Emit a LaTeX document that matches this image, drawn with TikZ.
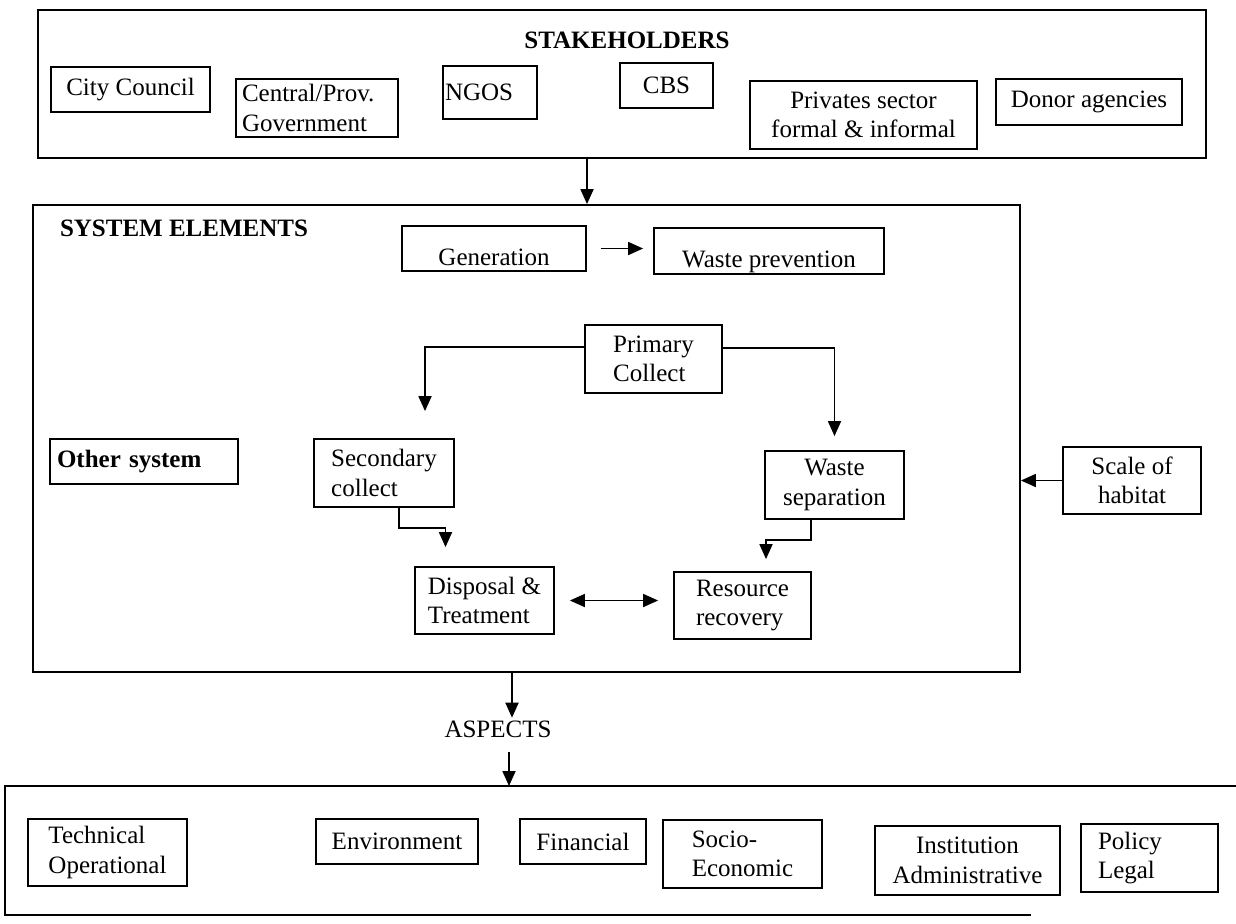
\documentclass[tikz,border=0pt]{standalone}
\usepackage{fontspec}
\setmainfont{Liberation Serif}
\usetikzlibrary{arrows.meta}
\begin{document}
\begin{tikzpicture}[x=0.5pt, y=-0.5pt, font=\fontsize{12.5}{14.8}\selectfont, line width=0.9pt, >={Triangle[width=6.5pt, length=7.5pt]}]
        \tikzstyle{box} = [draw, black, inner sep=2pt, align=left]
        \tikzstyle{blk} = [draw, black]
        \useasboundingbox (0,0) rectangle (1236,923);

        \node[draw, minimum width=584pt, minimum height=74pt] (stake) at (622, 84) {};
        \node (stakelbl) at (627, 40) {\textbf{STAKEHOLDERS}};
        \node[box, minimum width=79.5pt, minimum height=22.5pt] (council) at (130.5, 89.5) {City Council};
        \node[box, text width=75pt, inner xsep=3pt, minimum height=29pt] (central) at (317, 108) {Central/Prov.\\Government};
        \node[box, text width=45pt, inner xsep=1pt, minimum height=26.5pt] (ngos) at (490, 92.5) {NGOS};
        \node[box, minimum width=46.5pt, minimum height=22.5pt] (cbs) at (666.5, 85.5) {CBS};
        \node[box, align=center, minimum width=113.5pt, minimum height=34pt] (private) at (863.5, 115) {Privates sector\\formal \& informal};
        \node[box, minimum width=93pt, minimum height=23pt] (donor) at (1089, 102) {Donor agencies};

        \node[draw, minimum width=493.5pt, minimum height=233.5pt] (system) at (526.5, 438.5) {};
        \node (syslbl) at (184, 228) {\textbf{SYSTEM ELEMENTS}};
        \node[box, text height=17.5pt, text depth=1pt, minimum width=92pt] (gen) at (494, 248.5) {Generation};
        \node[box, text height=17.5pt, text depth=1.5pt, minimum width=115pt] (prevent) at (769, 251) {Waste prevention};
        \node[box, minimum width=68.5pt, minimum height=34pt] (primary) at (653.5, 359) {Primary\\Collect};
        \node[box, minimum width=70pt, minimum height=34pt] (second) at (384, 473) {Secondary\\collect};
        \node[box, text width=87pt, inner xsep=3.5pt, minimum height=22.5pt] (other) at (144, 461.5) {\textbf{Other system}};
        \node[box, align=center, minimum width=69.5pt, minimum height=34pt] (separate) at (834.5, 485) {Waste\\separation};
        \node[box, align=center, minimum width=69pt, minimum height=33.5pt] (habitat) at (1132, 480.5) {Scale of\\habitat};
        \node[box, minimum width=69.5pt, minimum height=33.5pt] (disposal) at (484.5, 600.5) {Disposal \&\\Treatment};
        \node[box, minimum width=68.5pt, minimum height=33.5pt] (recovery) at (742.5, 605.5) {Resource\\recovery};

        \node[inner sep=1pt] (aspects) at (498, 729) {ASPECTS};
        \draw (1236, 786) -- (5, 786) -- (5, 915) -- (1031, 915);
        \coordinate (asptop) at (509, 786);
        \node[box, minimum width=79.5pt, minimum height=33.5pt] (technical) at (107.5, 852.5) {Technical\\Operational};
        \node[box, minimum width=81pt, minimum height=22.5pt] (environ) at (397, 841.5) {Environment};
        \node[box, minimum width=63pt, minimum height=22.5pt] (finance) at (583, 841.5) {Financial};
        \node[box, minimum width=79.5pt, minimum height=34pt] (socio) at (742.5, 854) {Socio-\\Economic};
        \node[box, align=center, minimum width=92.5pt, minimum height=34.5pt] (institution) at (967.5, 860.5) {Institution\\Administrative};
        \node[box, text width=51.5pt, inner xsep=8.5pt, minimum height=34pt] (policy) at (1149.5, 858) {Policy\\Legal};

        \coordinate (stakeout) at ([xshift=-17.5pt]stake.south);
        \coordinate (sysout) at ([xshift=-7.25pt]system.south);

        \path[blk, ->] (stakeout) to (stakeout |- system.north);
        \path[blk, ->, shorten <=7pt, shorten >=5pt] (gen.east) to (gen.east -| prevent.west);
        \path[blk, ->, shorten >=13.5pt] ([yshift=6pt]primary.west) -| ([xshift=20.5pt]second.north);
        \path[blk, ->, shorten >=7pt] ([yshift=5.5pt]primary.east) -| (separate.north);
        \path[blk, ->, shorten >=9.5pt] ([xshift=7.5pt]second.south) -- ++(0,20) -| ([xshift=-19.5pt]disposal.north);
        \path[blk, ->, shorten >=6pt] ([xshift=-11.75pt]separate.south) -- ++(0,20) -| ([xshift=11.75pt]recovery.north);
        \path[blk, <->, shorten <=7.5pt, shorten >=7.5pt] (disposal.east) to (disposal.east -| recovery.west);
        \path[blk, ->] (habitat.west) to (habitat.west -| system.east);
        \path[blk, ->] (sysout) to (sysout |- aspects.north);
        \path[blk, ->, shorten <=6pt] (aspects.south -| asptop) to (asptop);
    \end{tikzpicture}
\end{document}
